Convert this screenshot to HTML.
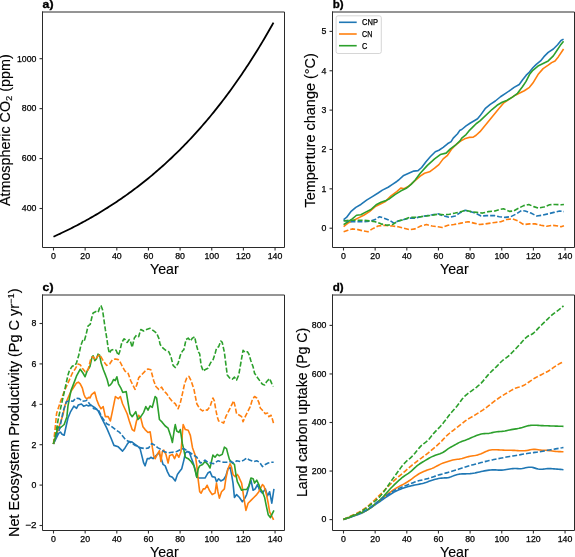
<!DOCTYPE html>
<html><head><meta charset="utf-8"><style>
html,body{margin:0;padding:0;background:#fff;}
svg{display:block;will-change:transform;}
text{font-family:"Liberation Sans",sans-serif;fill:#000;}
.tk{stroke:#000;stroke-width:0.25px;}
.pl{stroke:#000;stroke-width:0.3px;}
.lb{stroke:#000;stroke-width:0.15px;}
</style></head><body>
<svg width="575" height="557" viewBox="0 0 575 557">
<rect width="575" height="557" fill="#fff"/>
<line x1="53.50" y1="247.5" x2="53.50" y2="250.5" stroke="#333" stroke-width="1.1"/>
<text x="53.50" y="259.30" text-anchor="middle" font-size="8.9" class="tk" textLength="4.88" lengthAdjust="spacingAndGlyphs">0</text>
<line x1="85.15" y1="247.5" x2="85.15" y2="250.5" stroke="#333" stroke-width="1.1"/>
<text x="85.15" y="259.30" text-anchor="middle" font-size="8.9" class="tk" textLength="9.76" lengthAdjust="spacingAndGlyphs">20</text>
<line x1="116.80" y1="247.5" x2="116.80" y2="250.5" stroke="#333" stroke-width="1.1"/>
<text x="116.80" y="259.30" text-anchor="middle" font-size="8.9" class="tk" textLength="9.76" lengthAdjust="spacingAndGlyphs">40</text>
<line x1="148.45" y1="247.5" x2="148.45" y2="250.5" stroke="#333" stroke-width="1.1"/>
<text x="148.45" y="259.30" text-anchor="middle" font-size="8.9" class="tk" textLength="9.76" lengthAdjust="spacingAndGlyphs">60</text>
<line x1="180.10" y1="247.5" x2="180.10" y2="250.5" stroke="#333" stroke-width="1.1"/>
<text x="180.10" y="259.30" text-anchor="middle" font-size="8.9" class="tk" textLength="9.76" lengthAdjust="spacingAndGlyphs">80</text>
<line x1="211.75" y1="247.5" x2="211.75" y2="250.5" stroke="#333" stroke-width="1.1"/>
<text x="211.75" y="259.30" text-anchor="middle" font-size="8.9" class="tk" textLength="14.63" lengthAdjust="spacingAndGlyphs">100</text>
<line x1="243.40" y1="247.5" x2="243.40" y2="250.5" stroke="#333" stroke-width="1.1"/>
<text x="243.40" y="259.30" text-anchor="middle" font-size="8.9" class="tk" textLength="14.63" lengthAdjust="spacingAndGlyphs">120</text>
<line x1="275.05" y1="247.5" x2="275.05" y2="250.5" stroke="#333" stroke-width="1.1"/>
<text x="275.05" y="259.30" text-anchor="middle" font-size="8.9" class="tk" textLength="14.63" lengthAdjust="spacingAndGlyphs">140</text>
<line x1="39.5" y1="208.50" x2="42.5" y2="208.50" stroke="#333" stroke-width="1.1"/>
<text x="29.18" y="211.35" text-anchor="middle" font-size="8.9" class="tk" textLength="14.63" lengthAdjust="spacingAndGlyphs">400</text>
<line x1="39.5" y1="158.56" x2="42.5" y2="158.56" stroke="#333" stroke-width="1.1"/>
<text x="29.18" y="161.41" text-anchor="middle" font-size="8.9" class="tk" textLength="14.63" lengthAdjust="spacingAndGlyphs">600</text>
<line x1="39.5" y1="108.62" x2="42.5" y2="108.62" stroke="#333" stroke-width="1.1"/>
<text x="29.18" y="111.47" text-anchor="middle" font-size="8.9" class="tk" textLength="14.63" lengthAdjust="spacingAndGlyphs">800</text>
<line x1="39.5" y1="58.68" x2="42.5" y2="58.68" stroke="#333" stroke-width="1.1"/>
<text x="26.74" y="61.53" text-anchor="middle" font-size="8.9" class="tk" textLength="19.51" lengthAdjust="spacingAndGlyphs">1000</text>
<text x="164.40" y="273.80" text-anchor="middle" font-size="13.9" class="lb" textLength="28.6" lengthAdjust="spacingAndGlyphs">Year</text>
<line x1="343.50" y1="247.5" x2="343.50" y2="250.5" stroke="#333" stroke-width="1.1"/>
<text x="343.50" y="259.30" text-anchor="middle" font-size="8.9" class="tk" textLength="4.88" lengthAdjust="spacingAndGlyphs">0</text>
<line x1="375.15" y1="247.5" x2="375.15" y2="250.5" stroke="#333" stroke-width="1.1"/>
<text x="375.15" y="259.30" text-anchor="middle" font-size="8.9" class="tk" textLength="9.76" lengthAdjust="spacingAndGlyphs">20</text>
<line x1="406.80" y1="247.5" x2="406.80" y2="250.5" stroke="#333" stroke-width="1.1"/>
<text x="406.80" y="259.30" text-anchor="middle" font-size="8.9" class="tk" textLength="9.76" lengthAdjust="spacingAndGlyphs">40</text>
<line x1="438.45" y1="247.5" x2="438.45" y2="250.5" stroke="#333" stroke-width="1.1"/>
<text x="438.45" y="259.30" text-anchor="middle" font-size="8.9" class="tk" textLength="9.76" lengthAdjust="spacingAndGlyphs">60</text>
<line x1="470.10" y1="247.5" x2="470.10" y2="250.5" stroke="#333" stroke-width="1.1"/>
<text x="470.10" y="259.30" text-anchor="middle" font-size="8.9" class="tk" textLength="9.76" lengthAdjust="spacingAndGlyphs">80</text>
<line x1="501.75" y1="247.5" x2="501.75" y2="250.5" stroke="#333" stroke-width="1.1"/>
<text x="501.75" y="259.30" text-anchor="middle" font-size="8.9" class="tk" textLength="14.63" lengthAdjust="spacingAndGlyphs">100</text>
<line x1="533.40" y1="247.5" x2="533.40" y2="250.5" stroke="#333" stroke-width="1.1"/>
<text x="533.40" y="259.30" text-anchor="middle" font-size="8.9" class="tk" textLength="14.63" lengthAdjust="spacingAndGlyphs">120</text>
<line x1="565.05" y1="247.5" x2="565.05" y2="250.5" stroke="#333" stroke-width="1.1"/>
<text x="565.05" y="259.30" text-anchor="middle" font-size="8.9" class="tk" textLength="14.63" lengthAdjust="spacingAndGlyphs">140</text>
<line x1="329.5" y1="228.20" x2="332.5" y2="228.20" stroke="#333" stroke-width="1.1"/>
<text x="324.06" y="231.05" text-anchor="middle" font-size="8.9" class="tk" textLength="4.88" lengthAdjust="spacingAndGlyphs">0</text>
<line x1="329.5" y1="188.84" x2="332.5" y2="188.84" stroke="#333" stroke-width="1.1"/>
<text x="324.06" y="191.69" text-anchor="middle" font-size="8.9" class="tk" textLength="4.88" lengthAdjust="spacingAndGlyphs">1</text>
<line x1="329.5" y1="149.48" x2="332.5" y2="149.48" stroke="#333" stroke-width="1.1"/>
<text x="324.06" y="152.33" text-anchor="middle" font-size="8.9" class="tk" textLength="4.88" lengthAdjust="spacingAndGlyphs">2</text>
<line x1="329.5" y1="110.12" x2="332.5" y2="110.12" stroke="#333" stroke-width="1.1"/>
<text x="324.06" y="112.97" text-anchor="middle" font-size="8.9" class="tk" textLength="4.88" lengthAdjust="spacingAndGlyphs">3</text>
<line x1="329.5" y1="70.76" x2="332.5" y2="70.76" stroke="#333" stroke-width="1.1"/>
<text x="324.06" y="73.61" text-anchor="middle" font-size="8.9" class="tk" textLength="4.88" lengthAdjust="spacingAndGlyphs">4</text>
<line x1="329.5" y1="31.40" x2="332.5" y2="31.40" stroke="#333" stroke-width="1.1"/>
<text x="324.06" y="34.25" text-anchor="middle" font-size="8.9" class="tk" textLength="4.88" lengthAdjust="spacingAndGlyphs">5</text>
<text x="454.40" y="273.80" text-anchor="middle" font-size="13.9" class="lb" textLength="28.6" lengthAdjust="spacingAndGlyphs">Year</text>
<line x1="53.50" y1="530.5" x2="53.50" y2="533.5" stroke="#333" stroke-width="1.1"/>
<text x="53.50" y="542.30" text-anchor="middle" font-size="8.9" class="tk" textLength="4.88" lengthAdjust="spacingAndGlyphs">0</text>
<line x1="85.15" y1="530.5" x2="85.15" y2="533.5" stroke="#333" stroke-width="1.1"/>
<text x="85.15" y="542.30" text-anchor="middle" font-size="8.9" class="tk" textLength="9.76" lengthAdjust="spacingAndGlyphs">20</text>
<line x1="116.80" y1="530.5" x2="116.80" y2="533.5" stroke="#333" stroke-width="1.1"/>
<text x="116.80" y="542.30" text-anchor="middle" font-size="8.9" class="tk" textLength="9.76" lengthAdjust="spacingAndGlyphs">40</text>
<line x1="148.45" y1="530.5" x2="148.45" y2="533.5" stroke="#333" stroke-width="1.1"/>
<text x="148.45" y="542.30" text-anchor="middle" font-size="8.9" class="tk" textLength="9.76" lengthAdjust="spacingAndGlyphs">60</text>
<line x1="180.10" y1="530.5" x2="180.10" y2="533.5" stroke="#333" stroke-width="1.1"/>
<text x="180.10" y="542.30" text-anchor="middle" font-size="8.9" class="tk" textLength="9.76" lengthAdjust="spacingAndGlyphs">80</text>
<line x1="211.75" y1="530.5" x2="211.75" y2="533.5" stroke="#333" stroke-width="1.1"/>
<text x="211.75" y="542.30" text-anchor="middle" font-size="8.9" class="tk" textLength="14.63" lengthAdjust="spacingAndGlyphs">100</text>
<line x1="243.40" y1="530.5" x2="243.40" y2="533.5" stroke="#333" stroke-width="1.1"/>
<text x="243.40" y="542.30" text-anchor="middle" font-size="8.9" class="tk" textLength="14.63" lengthAdjust="spacingAndGlyphs">120</text>
<line x1="275.05" y1="530.5" x2="275.05" y2="533.5" stroke="#333" stroke-width="1.1"/>
<text x="275.05" y="542.30" text-anchor="middle" font-size="8.9" class="tk" textLength="14.63" lengthAdjust="spacingAndGlyphs">140</text>
<line x1="39.5" y1="525.50" x2="42.5" y2="525.50" stroke="#333" stroke-width="1.1"/>
<text x="30.85" y="528.35" text-anchor="middle" font-size="8.9" class="tk" textLength="11.31" lengthAdjust="spacingAndGlyphs">−2</text>
<line x1="39.5" y1="485.10" x2="42.5" y2="485.10" stroke="#333" stroke-width="1.1"/>
<text x="34.06" y="487.95" text-anchor="middle" font-size="8.9" class="tk" textLength="4.88" lengthAdjust="spacingAndGlyphs">0</text>
<line x1="39.5" y1="444.70" x2="42.5" y2="444.70" stroke="#333" stroke-width="1.1"/>
<text x="34.06" y="447.55" text-anchor="middle" font-size="8.9" class="tk" textLength="4.88" lengthAdjust="spacingAndGlyphs">2</text>
<line x1="39.5" y1="404.30" x2="42.5" y2="404.30" stroke="#333" stroke-width="1.1"/>
<text x="34.06" y="407.15" text-anchor="middle" font-size="8.9" class="tk" textLength="4.88" lengthAdjust="spacingAndGlyphs">4</text>
<line x1="39.5" y1="363.90" x2="42.5" y2="363.90" stroke="#333" stroke-width="1.1"/>
<text x="34.06" y="366.75" text-anchor="middle" font-size="8.9" class="tk" textLength="4.88" lengthAdjust="spacingAndGlyphs">6</text>
<line x1="39.5" y1="323.50" x2="42.5" y2="323.50" stroke="#333" stroke-width="1.1"/>
<text x="34.06" y="326.35" text-anchor="middle" font-size="8.9" class="tk" textLength="4.88" lengthAdjust="spacingAndGlyphs">8</text>
<text x="164.40" y="556.80" text-anchor="middle" font-size="13.9" class="lb" textLength="28.6" lengthAdjust="spacingAndGlyphs">Year</text>
<line x1="343.50" y1="530.5" x2="343.50" y2="533.5" stroke="#333" stroke-width="1.1"/>
<text x="343.50" y="542.30" text-anchor="middle" font-size="8.9" class="tk" textLength="4.88" lengthAdjust="spacingAndGlyphs">0</text>
<line x1="375.15" y1="530.5" x2="375.15" y2="533.5" stroke="#333" stroke-width="1.1"/>
<text x="375.15" y="542.30" text-anchor="middle" font-size="8.9" class="tk" textLength="9.76" lengthAdjust="spacingAndGlyphs">20</text>
<line x1="406.80" y1="530.5" x2="406.80" y2="533.5" stroke="#333" stroke-width="1.1"/>
<text x="406.80" y="542.30" text-anchor="middle" font-size="8.9" class="tk" textLength="9.76" lengthAdjust="spacingAndGlyphs">40</text>
<line x1="438.45" y1="530.5" x2="438.45" y2="533.5" stroke="#333" stroke-width="1.1"/>
<text x="438.45" y="542.30" text-anchor="middle" font-size="8.9" class="tk" textLength="9.76" lengthAdjust="spacingAndGlyphs">60</text>
<line x1="470.10" y1="530.5" x2="470.10" y2="533.5" stroke="#333" stroke-width="1.1"/>
<text x="470.10" y="542.30" text-anchor="middle" font-size="8.9" class="tk" textLength="9.76" lengthAdjust="spacingAndGlyphs">80</text>
<line x1="501.75" y1="530.5" x2="501.75" y2="533.5" stroke="#333" stroke-width="1.1"/>
<text x="501.75" y="542.30" text-anchor="middle" font-size="8.9" class="tk" textLength="14.63" lengthAdjust="spacingAndGlyphs">100</text>
<line x1="533.40" y1="530.5" x2="533.40" y2="533.5" stroke="#333" stroke-width="1.1"/>
<text x="533.40" y="542.30" text-anchor="middle" font-size="8.9" class="tk" textLength="14.63" lengthAdjust="spacingAndGlyphs">120</text>
<line x1="565.05" y1="530.5" x2="565.05" y2="533.5" stroke="#333" stroke-width="1.1"/>
<text x="565.05" y="542.30" text-anchor="middle" font-size="8.9" class="tk" textLength="14.63" lengthAdjust="spacingAndGlyphs">140</text>
<line x1="329.5" y1="519.60" x2="332.5" y2="519.60" stroke="#333" stroke-width="1.1"/>
<text x="324.06" y="522.45" text-anchor="middle" font-size="8.9" class="tk" textLength="4.88" lengthAdjust="spacingAndGlyphs">0</text>
<line x1="329.5" y1="471.05" x2="332.5" y2="471.05" stroke="#333" stroke-width="1.1"/>
<text x="319.18" y="473.90" text-anchor="middle" font-size="8.9" class="tk" textLength="14.63" lengthAdjust="spacingAndGlyphs">200</text>
<line x1="329.5" y1="422.50" x2="332.5" y2="422.50" stroke="#333" stroke-width="1.1"/>
<text x="319.18" y="425.35" text-anchor="middle" font-size="8.9" class="tk" textLength="14.63" lengthAdjust="spacingAndGlyphs">400</text>
<line x1="329.5" y1="373.95" x2="332.5" y2="373.95" stroke="#333" stroke-width="1.1"/>
<text x="319.18" y="376.80" text-anchor="middle" font-size="8.9" class="tk" textLength="14.63" lengthAdjust="spacingAndGlyphs">600</text>
<line x1="329.5" y1="325.40" x2="332.5" y2="325.40" stroke="#333" stroke-width="1.1"/>
<text x="319.18" y="328.25" text-anchor="middle" font-size="8.9" class="tk" textLength="14.63" lengthAdjust="spacingAndGlyphs">800</text>
<text x="454.40" y="556.80" text-anchor="middle" font-size="13.9" class="lb" textLength="28.6" lengthAdjust="spacingAndGlyphs">Year</text>
<g id="curves"><polyline points="53.50,236.72 55.08,236.00 56.66,235.28 58.25,234.54 59.83,233.81 61.41,233.06 63.00,232.31 64.58,231.55 66.16,230.78 67.74,230.00 69.33,229.22 70.91,228.43 72.49,227.63 74.07,226.82 75.66,226.00 77.24,225.18 78.82,224.35 80.40,223.51 81.98,222.66 83.57,221.80 85.15,220.94 86.73,220.06 88.31,219.18 89.90,218.29 91.48,217.39 93.06,216.48 94.65,215.56 96.23,214.63 97.81,213.69 99.39,212.74 100.97,211.79 102.56,210.82 104.14,209.85 105.72,208.86 107.31,207.87 108.89,206.86 110.47,205.85 112.05,204.82 113.63,203.78 115.22,202.74 116.80,201.68 118.38,200.62 119.97,199.54 121.55,198.45 123.13,197.35 124.71,196.24 126.30,195.12 127.88,193.99 129.46,192.84 131.04,191.69 132.62,190.52 134.21,189.34 135.79,188.15 137.37,186.95 138.95,185.73 140.54,184.51 142.12,183.27 143.70,182.02 145.28,180.75 146.87,179.48 148.45,178.19 150.03,176.89 151.62,175.57 153.20,174.24 154.78,172.90 156.36,171.55 157.94,170.18 159.53,168.80 161.11,167.40 162.69,165.99 164.28,164.57 165.86,163.13 167.44,161.68 169.02,160.21 170.61,158.73 172.19,157.23 173.77,155.72 175.35,154.19 176.94,152.65 178.52,151.09 180.10,149.52 181.68,147.93 183.27,146.33 184.85,144.71 186.43,143.07 188.01,141.42 189.59,139.75 191.18,138.06 192.76,136.36 194.34,134.64 195.93,132.90 197.51,131.15 199.09,129.37 200.67,127.58 202.25,125.78 203.84,123.95 205.42,122.11 207.00,120.24 208.59,118.36 210.17,116.46 211.75,114.54 213.33,112.60 214.91,110.65 216.50,108.67 218.08,106.67 219.66,104.65 221.25,102.62 222.83,100.56 224.41,98.48 225.99,96.38 227.57,94.26 229.16,92.12 230.74,89.96 232.32,87.77 233.91,85.57 235.49,83.34 237.07,81.09 238.65,78.82 240.24,76.52 241.82,74.20 243.40,71.86 244.98,69.50 246.56,67.11 248.15,64.69 249.73,62.26 251.31,59.80 252.90,57.31 254.48,54.80 256.06,52.26 257.64,49.70 259.23,47.12 260.81,44.50 262.39,41.86 263.97,39.20 265.56,36.51 267.14,33.79 268.72,31.04 270.30,28.27 271.88,25.47 273.47,22.64" fill="none" stroke="#000" stroke-width="1.8" stroke-linejoin="round"/>
<polyline points="343.50,519.56 345.08,518.91 346.67,518.46 348.25,517.94 349.83,517.41 351.41,516.88 353.00,516.34 354.58,515.80 356.16,515.26 357.74,514.70 359.32,514.09 360.91,513.42 362.49,512.69 364.07,511.91 365.65,511.07 367.24,510.16 368.82,509.17 370.40,508.11 371.99,507.01 373.57,505.91 375.15,504.80 376.73,503.69 378.31,502.58 379.90,501.48 381.48,500.37 383.06,499.26 384.64,498.16 386.23,497.06 387.81,495.99 389.39,494.96 390.98,493.97 392.56,493.02 394.14,492.11 395.72,491.27 397.31,490.51 398.89,489.82 400.47,489.18 402.05,488.58 403.63,488.02 405.22,487.50 406.80,487.01 408.38,486.56 409.97,486.13 411.55,485.75 413.13,485.40 414.71,485.07 416.30,484.76 417.88,484.44 419.46,484.12 421.04,483.79 422.62,483.44 424.21,483.02 425.79,482.53 427.37,481.97 428.95,481.37 430.54,480.79 432.12,480.24 433.70,479.76 435.28,479.32 436.87,478.91 438.45,478.56 440.03,478.29 441.62,478.12 443.20,478.00 444.78,477.91 446.36,477.83 447.94,477.68 449.53,477.35 451.11,476.79 452.69,476.12 454.27,475.49 455.86,474.97 457.44,474.52 459.02,474.16 460.61,473.93 462.19,473.84 463.77,473.84 465.35,473.85 466.94,473.81 468.52,473.73 470.10,473.60 471.68,473.42 473.26,473.19 474.85,472.93 476.43,472.62 478.01,472.29 479.60,471.93 481.18,471.56 482.76,471.21 484.34,470.89 485.93,470.60 487.51,470.35 489.09,470.14 490.67,469.98 492.25,469.88 493.84,469.84 495.42,469.89 497.00,469.99 498.59,470.10 500.17,470.15 501.75,470.10 503.33,469.96 504.91,469.76 506.50,469.53 508.08,469.28 509.66,469.03 511.25,468.79 512.83,468.61 514.41,468.50 515.99,468.51 517.58,468.62 519.16,468.73 520.74,468.71 522.32,468.50 523.90,468.16 525.49,467.80 527.07,467.48 528.65,467.26 530.24,467.18 531.82,467.29 533.40,467.63 534.98,468.12 536.57,468.62 538.15,469.01 539.73,469.24 541.31,469.28 542.89,469.16 544.48,468.98 546.06,468.80 547.64,468.67 549.23,468.64 550.81,468.67 552.39,468.74 553.97,468.84 555.56,468.96 557.14,469.10 558.72,469.25 560.30,469.41 561.88,469.55 563.47,469.75" fill="none" stroke="#1f77b4" stroke-width="1.6" stroke-linejoin="round"/>
<polyline points="343.50,519.56 345.08,518.83 346.67,518.31 348.25,517.74 349.83,517.14 351.41,516.53 353.00,515.93 354.58,515.32 356.16,514.72 357.74,514.11 359.32,513.50 360.91,512.88 362.49,512.24 364.07,511.58 365.65,510.85 367.24,509.98 368.82,508.94 370.40,507.77 371.99,506.53 373.57,505.27 375.15,504.00 376.73,502.74 378.31,501.47 379.90,500.20 381.48,498.94 383.06,497.67 384.64,496.41 386.23,495.16 387.81,493.93 389.39,492.74 390.98,491.59 392.56,490.48 394.14,489.41 395.72,488.41 397.31,487.49 398.89,486.64 400.47,485.82 402.05,484.99 403.63,484.12 405.22,483.22 406.80,482.28 408.38,481.29 409.97,480.24 411.55,479.11 413.13,477.91 414.71,476.70 416.30,475.54 417.88,474.48 419.46,473.55 421.04,472.71 422.62,471.94 424.21,471.24 425.79,470.63 427.37,470.08 428.95,469.56 430.54,469.01 432.12,468.38 433.70,467.67 435.28,466.88 436.87,466.06 438.45,465.22 440.03,464.38 441.62,463.62 443.20,462.97 444.78,462.44 446.36,461.96 447.94,461.47 449.53,460.95 451.11,460.45 452.69,460.02 454.27,459.69 455.86,459.46 457.44,459.28 459.02,459.10 460.61,458.81 462.19,458.40 463.77,457.92 465.35,457.43 466.94,457.01 468.52,456.64 470.10,456.33 471.68,456.05 473.26,455.80 474.85,455.55 476.43,455.24 478.01,454.85 479.60,454.35 481.18,453.75 482.76,453.08 484.34,452.34 485.93,451.57 487.51,450.87 489.09,450.32 490.67,449.97 492.25,449.79 493.84,449.71 495.42,449.71 497.00,449.77 498.59,449.86 500.17,449.96 501.75,450.05 503.33,450.13 504.91,450.19 506.50,450.23 508.08,450.26 509.66,450.28 511.25,450.31 512.83,450.35 514.41,450.42 515.99,450.49 517.58,450.59 519.16,450.68 520.74,450.77 522.32,450.80 523.90,450.77 525.49,450.64 527.07,450.43 528.65,450.15 530.24,449.81 531.82,449.49 533.40,449.33 534.98,449.37 536.57,449.57 538.15,449.82 539.73,450.04 541.31,450.17 542.89,450.24 544.48,450.27 546.06,450.31 547.64,450.41 549.23,450.58 550.81,450.80 552.39,451.04 553.97,451.25 555.56,451.42 557.14,451.53 558.72,451.61 560.30,451.66 561.88,451.70 563.47,451.76" fill="none" stroke="#ff7f0e" stroke-width="1.6" stroke-linejoin="round"/>
<polyline points="343.50,519.56 345.08,518.83 346.67,518.31 348.25,517.74 349.83,517.14 351.41,516.53 353.00,515.93 354.58,515.32 356.16,514.72 357.74,514.11 359.32,513.50 360.91,512.88 362.49,512.24 364.07,511.58 365.65,510.85 367.24,509.98 368.82,508.94 370.40,507.77 371.99,506.53 373.57,505.27 375.15,504.00 376.73,502.73 378.31,501.44 379.90,500.08 381.48,498.58 383.06,496.92 384.64,495.14 386.23,493.30 387.81,491.48 389.39,489.74 390.98,488.07 392.56,486.46 394.14,484.89 395.72,483.36 397.31,481.87 398.89,480.43 400.47,479.03 402.05,477.72 403.63,476.51 405.22,475.42 406.80,474.39 408.38,473.34 409.97,472.18 411.55,470.86 413.13,469.42 414.71,467.92 416.30,466.48 417.88,465.18 419.46,464.03 421.04,463.01 422.62,462.03 424.21,461.08 425.79,460.13 427.37,459.19 428.95,458.27 430.54,457.39 432.12,456.61 433.70,455.93 435.28,455.32 436.87,454.76 438.45,454.24 440.03,453.72 441.62,453.10 443.20,452.28 444.78,451.24 446.36,450.08 447.94,448.95 449.53,447.92 451.11,446.98 452.69,446.11 454.27,445.25 455.86,444.37 457.44,443.48 459.02,442.63 460.61,441.88 462.19,441.27 463.77,440.73 465.35,440.19 466.94,439.60 468.52,438.95 470.10,438.26 471.68,437.57 473.26,436.89 474.85,436.23 476.43,435.59 478.01,435.00 479.60,434.47 481.18,434.03 482.76,433.72 484.34,433.58 485.93,433.53 487.51,433.49 489.09,433.33 490.67,433.03 492.25,432.64 493.84,432.27 495.42,431.99 497.00,431.80 498.59,431.67 500.17,431.53 501.75,431.38 503.33,431.18 504.91,430.94 506.50,430.66 508.08,430.33 509.66,429.98 511.25,429.65 512.83,429.36 514.41,429.11 515.99,428.86 517.58,428.59 519.16,428.25 520.74,427.86 522.32,427.42 523.90,426.93 525.49,426.42 527.07,425.98 528.65,425.64 530.24,425.42 531.82,425.28 533.40,425.22 534.98,425.22 536.57,425.28 538.15,425.38 539.73,425.49 541.31,425.58 542.89,425.65 544.48,425.71 546.06,425.77 547.64,425.82 549.23,425.88 550.81,425.93 552.39,425.98 553.97,426.03 555.56,426.09 557.14,426.14 558.72,426.19 560.30,426.24 561.88,426.29 563.47,426.35" fill="none" stroke="#2ca02c" stroke-width="1.6" stroke-linejoin="round"/>
<polyline points="343.50,519.56 345.08,518.83 346.67,518.31 348.25,517.74 349.83,517.14 351.41,516.53 353.00,515.93 354.58,515.32 356.16,514.71 357.74,514.09 359.32,513.43 360.91,512.73 362.49,511.98 364.07,511.19 365.65,510.35 367.24,509.44 368.82,508.45 370.40,507.38 371.99,506.27 373.57,505.13 375.15,503.94 376.73,502.72 378.31,501.47 379.90,500.24 381.48,499.03 383.06,497.86 384.64,496.73 386.23,495.63 387.81,494.56 389.39,493.53 390.98,492.54 392.56,491.58 394.14,490.67 395.72,489.83 397.31,489.07 398.89,488.38 400.47,487.73 402.05,487.09 403.63,486.46 405.22,485.83 406.80,485.19 408.38,484.56 409.97,483.93 411.55,483.30 413.13,482.67 414.71,482.06 416.30,481.49 417.88,481.00 419.46,480.58 421.04,480.22 422.62,479.87 424.21,479.51 425.79,479.10 427.37,478.66 428.95,478.19 430.54,477.70 432.12,477.19 433.70,476.67 435.28,476.12 436.87,475.59 438.45,475.07 440.03,474.61 441.62,474.19 443.20,473.78 444.78,473.35 446.36,472.89 447.94,472.42 449.53,471.95 451.11,471.47 452.69,471.00 454.27,470.52 455.86,470.03 457.44,469.53 459.02,469.02 460.61,468.50 462.19,467.99 463.77,467.47 465.35,466.97 466.94,466.47 468.52,466.00 470.10,465.54 471.68,465.10 473.26,464.66 474.85,464.23 476.43,463.81 478.01,463.40 479.60,462.98 481.18,462.57 482.76,462.16 484.34,461.75 485.93,461.35 487.51,460.95 489.09,460.58 490.67,460.24 492.25,459.91 493.84,459.59 495.42,459.27 497.00,458.95 498.59,458.64 500.17,458.32 501.75,458.01 503.33,457.69 504.91,457.37 506.50,457.06 508.08,456.75 509.66,456.46 511.25,456.20 512.83,455.95 514.41,455.72 515.99,455.48 517.58,455.22 519.16,454.94 520.74,454.64 522.32,454.33 523.90,454.04 525.49,453.78 527.07,453.53 528.65,453.30 530.24,453.08 531.82,452.85 533.40,452.63 534.98,452.41 536.57,452.18 538.15,451.95 539.73,451.71 541.31,451.45 542.89,451.18 544.48,450.90 546.06,450.61 547.64,450.33 549.23,450.04 550.81,449.76 552.39,449.47 553.97,449.19 555.56,448.90 557.14,448.62 558.72,448.34 560.30,448.06 561.88,447.82 563.47,447.48" fill="none" stroke="#1f77b4" stroke-width="1.6" stroke-linejoin="round" stroke-dasharray="5.0 2.0"/>
<polyline points="343.50,519.56 345.08,518.66 346.67,518.03 348.25,517.32 349.83,516.58 351.41,515.84 353.00,515.10 354.58,514.36 356.16,513.60 357.74,512.82 359.32,511.98 360.91,511.04 362.49,510.02 364.07,508.93 365.65,507.78 367.24,506.56 368.82,505.25 370.40,503.87 371.99,502.44 373.57,500.98 375.15,499.47 376.73,497.93 378.31,496.37 379.90,494.79 381.48,493.21 383.06,491.62 384.64,490.04 386.23,488.46 387.81,486.88 389.39,485.29 390.98,483.71 392.56,482.14 394.14,480.61 395.72,479.13 397.31,477.74 398.89,476.41 400.47,475.12 402.05,473.81 403.63,472.47 405.22,471.09 406.80,469.69 408.38,468.30 409.97,466.92 411.55,465.59 413.13,464.30 414.71,463.03 416.30,461.80 417.88,460.60 419.46,459.44 421.04,458.31 422.62,457.18 424.21,456.02 425.79,454.82 427.37,453.59 428.95,452.33 430.54,451.04 432.12,449.72 433.70,448.37 435.28,447.00 436.87,445.61 438.45,444.18 440.03,442.69 441.62,441.10 443.20,439.41 444.78,437.68 446.36,436.04 447.94,434.56 449.53,433.25 451.11,432.02 452.69,430.79 454.27,429.52 455.86,428.27 457.44,427.06 459.02,425.91 460.61,424.72 462.19,423.46 463.77,422.14 465.35,420.86 466.94,419.74 468.52,418.78 470.10,417.90 471.68,417.01 473.26,416.09 474.85,415.13 476.43,414.15 478.01,413.16 479.60,412.16 481.18,411.14 482.76,410.09 484.34,408.98 485.93,407.82 487.51,406.63 489.09,405.41 490.67,404.17 492.25,402.93 493.84,401.69 495.42,400.48 497.00,399.33 498.59,398.22 500.17,397.16 501.75,396.13 503.33,395.14 504.91,394.17 506.50,393.22 508.08,392.27 509.66,391.32 511.25,390.37 512.83,389.46 514.41,388.62 515.99,387.94 517.58,387.45 519.16,387.07 520.74,386.65 522.32,386.08 523.90,385.32 525.49,384.39 527.07,383.37 528.65,382.28 530.24,381.15 531.82,380.04 533.40,378.99 534.98,378.03 536.57,377.14 538.15,376.30 539.73,375.48 541.31,374.68 542.89,373.89 544.48,373.11 546.06,372.31 547.64,371.45 549.23,370.49 550.81,369.44 552.39,368.33 553.97,367.21 555.56,366.14 557.14,365.12 558.72,364.16 560.30,363.30 561.88,362.60 563.47,361.72" fill="none" stroke="#ff7f0e" stroke-width="1.6" stroke-linejoin="round" stroke-dasharray="5.0 2.0"/>
<polyline points="343.50,519.56 345.08,518.74 346.67,518.17 348.25,517.53 349.83,516.86 351.41,516.19 353.00,515.51 354.58,514.84 356.16,514.15 357.74,513.43 359.32,512.64 360.91,511.74 362.49,510.73 364.07,509.66 365.65,508.54 367.24,507.37 368.82,506.16 370.40,504.91 371.99,503.64 373.57,502.33 375.15,500.99 376.73,499.60 378.31,498.15 379.90,496.58 381.48,494.82 383.06,492.81 384.64,490.59 386.23,488.28 387.81,485.95 389.39,483.66 390.98,481.40 392.56,479.16 394.14,476.94 395.72,474.73 397.31,472.52 398.89,470.31 400.47,468.15 402.05,466.08 403.63,464.17 405.22,462.46 406.80,460.95 408.38,459.59 409.97,458.28 411.55,456.86 413.13,455.23 414.71,453.41 416.30,451.49 417.88,449.54 419.46,447.63 421.04,445.90 422.62,444.46 424.21,443.30 425.79,442.20 427.37,440.89 428.95,439.23 430.54,437.27 432.12,435.24 433.70,433.34 435.28,431.61 436.87,429.98 438.45,428.37 440.03,426.73 441.62,424.99 443.20,423.12 444.78,421.12 446.36,419.00 447.94,416.84 449.53,414.73 451.11,412.77 452.69,410.96 454.27,409.21 455.86,407.40 457.44,405.47 459.02,403.37 460.61,401.17 462.19,399.07 463.77,397.24 465.35,395.69 466.94,394.34 468.52,393.11 470.10,391.94 471.68,390.81 473.26,389.66 474.85,388.48 476.43,387.26 478.01,385.98 479.60,384.62 481.18,383.10 482.76,381.38 484.34,379.50 485.93,377.54 487.51,375.63 489.09,373.84 490.67,372.21 492.25,370.70 493.84,369.21 495.42,367.69 497.00,366.09 498.59,364.44 500.17,362.78 501.75,361.24 503.33,359.90 504.91,358.76 506.50,357.65 508.08,356.41 509.66,354.97 511.25,353.41 512.83,351.79 514.41,350.12 515.99,348.42 517.58,346.73 519.16,345.06 520.74,343.35 522.32,341.56 523.90,339.78 525.49,338.14 527.07,336.76 528.65,335.74 530.24,335.01 531.82,334.29 533.40,333.27 534.98,331.83 536.57,330.13 538.15,328.39 539.73,326.75 541.31,325.20 542.89,323.69 544.48,322.17 546.06,320.63 547.64,319.08 549.23,317.54 550.81,316.06 552.39,314.65 553.97,313.34 555.56,312.17 557.14,311.08 558.72,309.97 560.30,308.74 561.88,307.53 563.47,305.76" fill="none" stroke="#2ca02c" stroke-width="1.6" stroke-linejoin="round" stroke-dasharray="5.0 2.0"/>
<polyline points="53.39,443.91 56.63,437.44 58.78,433.13 60.40,432.05 62.02,434.20 64.17,435.28 65.79,427.74 67.95,418.03 70.64,411.56 73.88,406.17 76.57,408.33 78.19,405.09 81.42,404.02 83.58,406.17 86.81,405.09 88.09,405.88 90.96,405.16 94.55,407.32 98.14,410.91 102.45,419.52 106.76,428.14 111.07,438.20 113.94,445.38 118.25,446.81 122.56,451.12 125.00,447.90 127.15,444.31 129.31,441.44 132.18,442.15 135.05,444.31 137.93,446.46 140.08,448.62 141.52,454.36 143.67,462.98 145.11,465.85 147.26,458.67 149.42,458.67 150.85,457.24 153.01,458.67 155.88,455.80 158.75,452.93 160.91,457.24 163.06,464.42 165.22,465.85 167.37,471.60 169.52,475.91 172.40,477.34 175.27,480.93 177.42,474.47 179.58,471.60 181.73,468.73 183.89,460.11 185.32,452.93 187.48,451.49 189.63,452.93 191.07,457.24 193.22,462.98 195.38,470.16 196.81,477.34 198.97,478.06 202.56,478.06 205.00,478.06 207.87,473.03 210.03,471.60 212.18,476.62 215.05,477.34 216.49,481.65 218.64,478.78 220.80,480.93 223.67,479.50 225.83,475.91 227.98,468.73 230.13,467.29 231.57,474.47 233.01,483.09 234.44,497.45 236.60,494.58 239.47,497.45 242.34,501.76 244.50,498.89 246.65,494.58 249.52,484.52 250.96,480.22 253.11,490.27 255.27,488.83 257.42,484.52 259.58,490.27 262.45,493.14 265.32,488.83 267.48,496.01 269.63,491.71 271.79,503.20 273.94,488.83" fill="none" stroke="#1f77b4" stroke-width="1.6" stroke-linejoin="round"/>
<polyline points="53.39,443.91 62.93,415.00 65.08,405.16 67.95,397.98 70.83,391.52 73.70,387.21 76.57,382.90 78.37,382.18 80.23,383.78 80.88,385.05 82.39,388.09 83.03,390.80 84.00,394.55 85.19,397.26 86.16,398.32 87.34,398.70 88.85,397.24 90.00,397.98 91.54,394.55 94.66,392.05 96.82,400.04 98.86,405.16 101.01,408.75 103.17,406.60 105.32,416.65 108.20,416.65 110.35,420.96 112.50,410.91 115.38,396.54 118.25,398.70 120.40,396.54 122.56,403.73 127.15,413.78 129.31,420.96 132.18,429.58 134.34,431.01 136.49,420.96 138.64,415.22 140.80,418.09 142.95,426.71 145.11,429.58 147.98,432.45 150.13,431.73 151.57,441.07 152.29,447.18 153.73,455.80 155.16,458.67 157.32,454.36 159.47,450.77 160.91,461.54 162.34,451.49 163.78,450.05 165.93,454.36 168.09,462.98 169.52,455.80 172.40,454.36 174.55,458.67 176.71,453.64 178.86,457.24 181.01,451.49 181.73,442.87 182.45,432.45 183.17,424.55 185.32,429.58 188.20,430.30 190.35,435.32 192.50,447.72 195.38,455.80 196.81,465.85 198.25,480.22 199.69,491.71 201.12,493.14 203.28,488.83 205.00,488.83 207.15,485.24 209.31,490.27 212.18,494.58 215.05,493.14 216.49,483.09 217.93,491.71 219.36,498.17 221.52,491.71 224.39,488.83 225.83,478.78 227.98,468.73 230.13,463.70 231.57,467.29 233.01,474.47 235.16,476.62 237.32,474.47 238.75,476.62 240.19,480.22 241.62,483.09 243.78,497.45 245.93,510.38 248.09,503.20 250.96,500.32 253.83,497.45 256.71,494.58 258.86,491.71 261.01,487.40 262.45,484.52 263.89,485.96 265.32,490.27 266.76,496.01 268.20,503.20 269.63,511.81 273.60,519.95" fill="none" stroke="#ff7f0e" stroke-width="1.6" stroke-linejoin="round"/>
<polyline points="53.39,443.91 56.09,435.28 57.70,426.66 59.86,428.27 64.17,424.50 66.87,416.95 67.95,406.17 69.56,397.55 71.18,390.00 73.23,384.86 76.46,376.24 80.23,369.24 82.93,373.01 85.08,376.78 87.24,370.85 89.93,366.54 92.08,356.85 93.16,355.77 94.78,360.62 96.39,359.00 98.01,354.16 99.62,355.23 101.24,363.31 103.39,369.78 105.55,375.16 107.16,379.47 108.78,385.93 110.39,384.86 112.01,382.70 113.63,379.47 115.24,380.55 116.86,376.78 118.47,383.78 120.63,387.55 122.78,392.40 126.23,391.51 128.38,404.52 130.03,413.78 132.18,416.65 134.34,413.78 135.77,411.62 137.93,419.52 140.80,416.65 143.67,412.34 145.83,406.60 147.98,410.19 150.13,405.88 152.29,407.32 155.16,396.54 156.60,397.98 159.47,419.52 162.34,422.40 165.22,425.99 168.09,428.14 170.96,436.76 172.40,442.50 174.55,428.14 175.27,424.55 176.71,431.01 178.86,432.45 180.30,429.58 182.45,443.94 183.89,450.05 185.32,457.24 188.20,458.67 191.07,461.54 193.94,465.85 195.38,471.60 196.81,477.34 198.25,468.73 199.69,465.85 202.56,464.42 205.00,461.54 207.87,464.42 210.03,468.01 211.46,461.54 212.90,455.08 215.05,457.24 217.21,454.36 219.36,455.80 222.24,454.36 224.39,447.18 226.54,448.62 227.98,454.36 229.42,459.39 232.29,462.98 234.44,464.42 235.88,474.47 237.32,481.65 239.47,485.96 241.62,490.27 243.78,489.55 246.65,489.55 248.81,485.96 250.96,478.06 253.11,478.78 254.55,483.09 256.71,480.22 258.86,484.52 260.30,488.83 262.45,491.71 264.61,497.45 266.04,504.63 268.20,514.69 270.35,517.56 271.79,514.69 273.94,510.38" fill="none" stroke="#2ca02c" stroke-width="1.6" stroke-linejoin="round"/>
<polyline points="53.39,443.91 56.63,435.28 59.32,429.89 60.94,422.35 63.09,411.56 66.33,401.86 69.56,400.78 72.80,401.32 76.03,398.09 79.27,398.63 82.50,401.32 85.74,400.78 86.65,400.13 89.52,403.73 93.83,408.75 98.14,409.47 102.45,418.09 106.76,423.83 111.07,425.99 115.38,429.58 119.69,432.45 125.00,438.91 127.87,441.07 130.75,442.50 135.05,445.38 136.49,445.75 140.80,447.90 145.11,448.62 148.70,447.90 151.57,443.59 154.44,445.03 158.03,447.90 160.91,449.34 163.78,451.49 168.09,452.93 172.40,452.21 176.71,451.49 181.01,449.34 183.89,448.62 188.20,451.49 192.50,454.36 196.81,457.24 200.40,462.98 202.56,462.26 205.00,460.11 207.87,462.26 210.75,462.98 213.62,463.70 217.93,460.83 220.80,461.54 223.67,462.26 226.54,462.26 230.85,461.54 233.73,462.98 236.60,460.83 240.91,461.54 243.78,460.11 246.65,457.95 249.52,460.11 253.83,461.54 256.71,460.83 259.58,462.26 262.45,466.57 265.32,464.42 268.20,462.98 271.07,462.26 273.65,462.26" fill="none" stroke="#1f77b4" stroke-width="1.6" stroke-linejoin="round" stroke-dasharray="5.0 2.0"/>
<polyline points="53.50,443.90 55.10,428.50 56.63,413.18 60.40,401.86 64.17,391.62 72.29,373.28 75.16,368.97 78.03,363.94 80.19,364.66 82.34,368.25 85.22,371.84 88.09,369.69 90.96,358.20 93.11,356.76 95.27,359.63 97.42,356.76 99.58,354.61 101.73,358.20 103.89,361.79 106.76,365.38 109.63,363.94 112.50,359.63 115.38,358.91 118.25,359.63 120.40,362.50 122.56,366.81 125.00,371.12 127.87,372.56 130.75,380.75 132.90,385.05 135.05,389.36 137.21,383.62 138.64,377.87 145.11,371.12 147.98,368.97 150.85,369.69 153.73,380.75 155.88,386.49 158.75,389.36 161.62,387.21 163.78,390.80 166.65,393.67 169.52,397.98 172.40,401.57 175.27,403.73 178.14,408.75 180.30,403.01 182.45,393.67 184.61,383.62 186.76,377.87 188.91,376.44 191.07,380.75 193.94,389.36 196.81,403.73 199.69,408.75 202.56,410.91 205.00,409.47 207.15,410.19 210.03,406.60 212.90,397.98 214.34,400.85 215.77,409.47 217.21,416.65 218.64,420.96 220.80,421.68 223.67,423.11 225.83,416.65 227.98,412.34 230.13,408.03 232.29,403.73 233.73,400.85 235.16,406.60 236.60,413.78 239.47,415.22 241.62,416.65 243.06,421.68 245.22,416.65 248.09,410.91 250.24,406.60 252.40,399.42 254.55,396.54 256.71,397.98 258.86,402.29 260.30,408.03 262.45,410.19 265.32,413.78 267.48,413.06 268.91,416.65 271.07,415.22 272.50,419.52 273.65,423.83" fill="none" stroke="#ff7f0e" stroke-width="1.6" stroke-linejoin="round" stroke-dasharray="5.0 2.0"/>
<polyline points="53.39,443.91 55.55,435.28 57.16,425.58 58.24,419.11 59.86,411.56 62.02,401.86 64.71,390.00 67.98,375.00 69.42,370.40 72.29,366.10 75.16,365.38 76.60,362.50 78.75,355.32 80.91,345.27 83.06,339.52 84.50,340.24 85.93,335.22 88.09,325.88 90.24,324.44 91.68,317.98 93.11,312.95 95.99,311.52 98.14,312.24 99.58,307.93 101.01,305.77 102.45,309.36 103.89,319.42 105.32,329.47 106.76,338.09 108.20,348.14 109.34,353.17 111.07,350.30 113.94,349.29 116.10,350.30 118.25,355.32 119.69,351.73 121.84,342.40 123.99,338.81 125.00,339.52 127.15,342.40 129.31,339.52 130.75,342.40 132.18,347.42 134.34,338.09 136.49,335.22 138.64,336.65 140.80,329.47 143.67,330.91 146.54,329.47 150.13,328.32 153.73,330.91 156.60,333.06 158.75,338.09 160.19,344.55 163.06,348.14 166.65,351.01 168.81,351.73 170.96,356.76 173.11,365.38 175.27,367.53 178.14,363.22 180.30,355.32 182.45,351.01 183.89,349.58 186.04,339.52 188.20,338.09 190.35,340.96 192.50,338.09 194.66,336.65 196.10,343.83 198.25,351.73 199.69,353.89 201.12,365.38 203.28,371.12 205.00,369.69 207.87,368.25 210.75,362.50 212.90,360.35 215.05,353.89 216.49,348.14 218.64,346.71 220.80,340.96 222.24,342.40 224.39,352.45 225.83,363.94 227.26,375.00 230.13,378.59 232.29,379.31 234.44,377.15 236.60,380.03 238.75,375.00 240.91,362.50 243.06,350.30 245.22,352.45 247.37,351.73 248.81,353.89 250.96,361.07 253.11,366.81 254.55,373.28 258.14,378.59 260.30,381.46 262.45,384.34 264.61,385.05 266.76,381.46 269.63,378.59 271.79,383.62 273.22,386.49" fill="none" stroke="#2ca02c" stroke-width="1.6" stroke-linejoin="round" stroke-dasharray="5.0 2.0"/>
<polyline points="343.62,219.55 346.49,217.40 350.80,211.65 355.83,207.34 360.85,204.47 366.60,200.16 372.34,196.57 378.09,192.98 382.40,190.11 388.14,187.24 392.45,184.36 396.76,181.49 398.67,180.00 403.70,175.40 408.73,173.25 413.75,171.10 418.06,170.66 421.65,167.50 425.96,161.76 430.27,156.73 435.30,151.71 438.89,150.27 443.20,147.40 447.50,143.81 451.10,141.65 453.25,138.06 457.56,133.75 460.00,130.16 461.76,129.50 466.07,125.91 470.38,123.03 474.69,120.45 477.56,118.73 480.00,115.85 485.12,108.69 490.23,104.43 495.35,101.01 500.47,96.75 505.58,93.34 510.70,89.93 514.11,87.37 519.23,84.47 522.64,79.69 526.05,75.43 529.46,72.02 532.87,67.76 536.28,64.34 540.55,60.93 543.96,56.67 548.22,52.41 553.34,48.99 557.60,44.73 561.01,40.47 563.57,39.10" fill="none" stroke="#1f77b4" stroke-width="1.6" stroke-linejoin="round"/>
<polyline points="343.62,226.73 347.93,223.14 352.24,220.99 357.98,218.11 363.73,215.24 369.47,211.65 375.22,206.62 380.96,203.75 385.27,201.60 391.01,195.85 396.76,191.54 401.07,187.95 403.94,188.67 408.25,186.52 412.56,182.93 415.91,180.00 420.22,176.12 424.52,173.25 429.55,171.81 434.58,168.22 438.89,164.63 443.20,158.89 447.50,155.30 451.81,148.83 456.12,144.52 460.16,141.32 464.63,138.83 468.94,137.40 473.25,137.11 476.12,135.24 480.00,131.65 498.76,108.69 503.88,102.72 508.99,99.31 514.11,95.90 519.23,93.34 524.34,90.78 529.46,87.37 532.87,83.11 537.99,74.58 543.11,68.61 548.22,65.20 551.63,62.64 555.04,60.93 558.46,56.67 563.57,48.99" fill="none" stroke="#ff7f0e" stroke-width="1.6" stroke-linejoin="round"/>
<polyline points="343.62,224.58 347.93,221.71 352.24,218.83 356.54,215.24 360.85,214.81 365.16,212.37 370.91,209.50 376.65,204.47 380.96,202.32 385.27,200.88 389.58,198.73 395.32,194.42 401.07,190.83 406.81,187.95 411.12,184.36 415.19,180.00 420.22,173.25 427.40,165.35 434.58,158.89 440.32,154.58 446.07,153.14 450.38,148.83 456.12,144.52 460.00,140.93 461.76,138.11 466.07,134.52 468.94,130.93 473.25,126.62 476.12,123.75 480.00,120.88 491.94,109.54 497.06,105.28 502.17,102.21 507.29,100.16 512.41,97.09 517.52,93.34 522.64,86.52 526.05,81.40 529.46,74.58 532.87,70.31 537.99,66.05 543.11,63.49 548.22,60.93 553.34,55.82 556.75,50.70 560.16,45.58 563.57,41.32" fill="none" stroke="#2ca02c" stroke-width="1.6" stroke-linejoin="round"/>
<polyline points="343.62,220.27 349.36,221.71 356.54,221.71 363.73,221.71 370.91,220.99 375.22,219.55 379.52,216.68 383.83,218.11 389.58,220.27 393.89,223.14 398.20,220.99 403.94,219.55 409.69,218.11 415.00,218.11 420.75,216.68 426.49,215.67 432.24,214.81 437.98,213.81 443.73,215.96 449.47,217.40 455.22,215.96 459.52,213.09 465.27,210.22 471.01,211.65 475.32,213.09 481.07,215.96 486.81,215.67 495.00,215.67 499.31,216.68 505.05,217.40 510.80,216.68 516.54,213.81 521.57,210.50 525.16,210.93 530.91,213.09 536.65,215.96 542.40,215.24 548.14,213.81 553.89,212.37 559.63,210.93 563.94,211.65" fill="none" stroke="#1f77b4" stroke-width="1.6" stroke-linejoin="round" stroke-dasharray="5.0 2.0"/>
<polyline points="343.62,231.76 347.93,230.32 352.24,228.89 357.98,229.61 363.73,231.04 368.03,231.76 372.34,228.89 378.09,226.01 383.83,225.30 392.45,226.01 398.20,226.73 403.94,228.17 409.69,229.61 415.00,228.89 420.75,226.01 426.49,224.58 432.24,226.01 437.98,226.73 442.29,227.45 448.03,225.30 453.78,224.58 460.96,223.14 468.14,221.71 473.89,223.14 479.63,224.58 485.38,223.86 495.00,222.42 500.75,221.71 506.49,219.55 512.24,218.83 517.98,220.99 523.73,224.58 529.47,223.86 535.22,223.86 540.96,225.30 546.71,226.30 552.45,225.30 558.20,226.01 561.07,226.73 563.94,225.73" fill="none" stroke="#ff7f0e" stroke-width="1.6" stroke-linejoin="round" stroke-dasharray="5.0 2.0"/>
<polyline points="343.62,220.99 349.36,220.27 356.54,220.27 363.73,220.27 370.91,220.99 375.22,221.71 380.96,223.86 386.71,225.30 392.45,224.58 398.20,220.99 403.94,219.55 409.69,217.40 415.00,217.40 420.75,216.68 426.49,215.96 432.24,215.24 437.98,214.24 443.73,214.81 449.47,214.24 455.22,213.09 460.96,211.65 465.27,210.22 471.01,211.65 476.76,212.37 482.50,213.09 488.25,211.65 495.00,210.93 499.31,209.50 503.62,208.78 509.36,211.36 513.67,210.93 517.98,208.49 523.73,205.62 528.75,204.47 533.78,206.62 538.09,208.06 543.83,207.06 549.58,204.76 555.32,204.47 561.07,204.76 563.94,204.47" fill="none" stroke="#2ca02c" stroke-width="1.6" stroke-linejoin="round" stroke-dasharray="5.0 2.0"/></g>
<path d="M42.5,12.0 L42.5,247.5 L284.5,247.5 L284.5,12.0 L42.5,12.0" fill="none" stroke="#2a2a2a" stroke-width="1" stroke-linecap="square"/>
<path d="M332.5,12.0 L332.5,247.5 L574.5,247.5 L574.5,12.0 L332.5,12.0" fill="none" stroke="#2a2a2a" stroke-width="1" stroke-linecap="square"/>
<path d="M42.5,295.0 L42.5,530.5 L284.5,530.5 L284.5,295.0 L42.5,295.0" fill="none" stroke="#2a2a2a" stroke-width="1" stroke-linecap="square"/>
<path d="M332.5,295.0 L332.5,530.5 L574.5,530.5 L574.5,295.0 L332.5,295.0" fill="none" stroke="#2a2a2a" stroke-width="1" stroke-linecap="square"/>
<text transform="translate(9.75,130.2) rotate(-90)" text-anchor="middle" font-size="13.9" class="lb" textLength="151.8" lengthAdjust="spacingAndGlyphs">Atmospheric CO<tspan font-size="9" dy="2.5">2</tspan><tspan dy="-2.5"> (ppm)</tspan></text>
<text transform="translate(314.9,130.35) rotate(-90)" text-anchor="middle" font-size="13.9" class="lb" textLength="154.3" lengthAdjust="spacingAndGlyphs">Temperture change (°C)</text>
<text transform="translate(18.9,412.75) rotate(-90)" text-anchor="middle" font-size="13.9" class="lb" textLength="248.5" lengthAdjust="spacingAndGlyphs">Net Ecosystem Productivity (Pg C yr<tspan font-size="9" dy="-4.5">−1</tspan><tspan dy="4.5">)</tspan></text>
<text transform="translate(306.6,412.45) rotate(-90)" text-anchor="middle" font-size="13.9" class="lb" textLength="169.2" lengthAdjust="spacingAndGlyphs">Land carbon uptake (Pg C)</text>
<text x="42.6" y="7.5" font-size="10.2" font-weight="bold" class="pl" textLength="10.9" lengthAdjust="spacingAndGlyphs">a)</text>
<text x="332.8" y="7.5" font-size="10.2" font-weight="bold" class="pl" textLength="10.9" lengthAdjust="spacingAndGlyphs">b)</text>
<text x="42.6" y="290.7" font-size="10.2" font-weight="bold" class="pl" textLength="10.9" lengthAdjust="spacingAndGlyphs">c)</text>
<text x="332.8" y="290.7" font-size="10.2" font-weight="bold" class="pl" textLength="10.9" lengthAdjust="spacingAndGlyphs">d)</text>
<rect x="336.1" y="15.8" width="45.2" height="37.7" rx="2" ry="2" fill="#fff" fill-opacity="0.8" stroke="#ccc" stroke-width="0.8"/>
<line x1="339" y1="22.3" x2="356.7" y2="22.3" stroke="#1f77b4" stroke-width="1.6"/>
<text x="362.1" y="25.20" font-size="8.3" class="tk" textLength="15.9" lengthAdjust="spacingAndGlyphs">CNP</text>
<line x1="339" y1="34.0" x2="356.7" y2="34.0" stroke="#ff7f0e" stroke-width="1.6"/>
<text x="362.1" y="36.90" font-size="8.3" class="tk" textLength="10.3" lengthAdjust="spacingAndGlyphs">CN</text>
<line x1="339" y1="45.7" x2="356.7" y2="45.7" stroke="#2ca02c" stroke-width="1.6"/>
<text x="362.1" y="48.60" font-size="8.3" class="tk" textLength="5.3" lengthAdjust="spacingAndGlyphs">C</text>
</svg>
</body></html>
